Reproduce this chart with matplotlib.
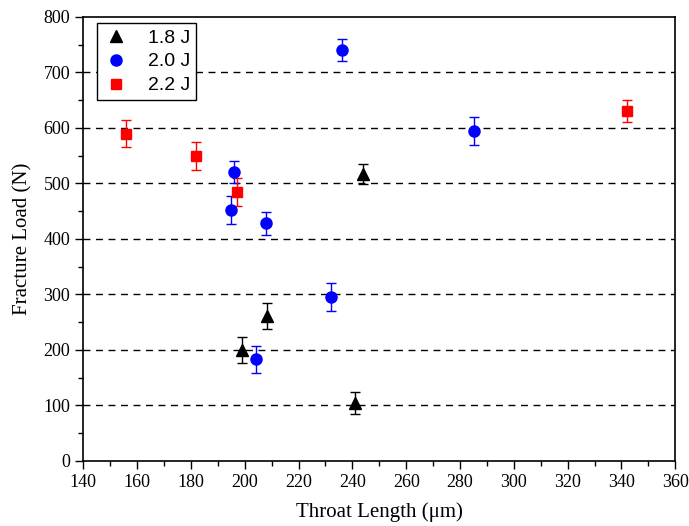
import matplotlib.pyplot as plt
from matplotlib.lines import Line2D
from matplotlib.ticker import MultipleLocator

# throat length (um), fracture load (N), error (N)
x_18 = [198.9, 208.1, 241.0, 244.0]
y_18 = [200, 261, 105, 517]
e_18 = [24, 24, 20, 18]

x_20 = [204.1, 232.0, 195.0, 196.0, 208.0, 236.0, 285.1]
y_20 = [183, 295, 452, 521, 428, 740, 594]
e_20 = [25, 25, 25, 20, 20, 20, 25]

x_22 = [155.8, 181.9, 197.0, 342.1]
y_22 = [590, 550, 484, 630]
e_22 = [25, 25, 25, 20]

series = [
    ('1.8 J', x_18, y_18, e_18, '^', 'black', 8.5),
    ('2.0 J', x_20, y_20, e_20, 'o', 'blue', 8),
    ('2.2 J', x_22, y_22, e_22, 's', 'red', 7),
]

serif = ['Liberation Serif', 'DejaVu Serif']
sans = ['Liberation Sans', 'DejaVu Sans']

fig = plt.figure(figsize=(6.89, 5.26), dpi=100)
ax = fig.add_axes([0.121, 0.1236, 0.859, 0.8441])

handles = []
for label, xs, ys, es, m, c, ms in series:
    ax.errorbar(xs, ys, yerr=es, fmt=m, color=c, ecolor=c, markersize=ms,
                capsize=3.5, elinewidth=1.0, capthick=1.0, zorder=3)
    handles.append(Line2D([], [], linestyle='none', marker=m, color=c,
                          markersize=ms, label=label))

# dashed horizontal grid at major y ticks
for yv in range(100, 800, 100):
    ax.axhline(yv, color='black', linestyle=(0, (5, 4)), linewidth=1.0, zorder=1)

ax.set_xlim(140, 360)
ax.set_ylim(0, 800)
ax.xaxis.set_major_locator(MultipleLocator(20))
ax.xaxis.set_minor_locator(MultipleLocator(10))
ax.yaxis.set_major_locator(MultipleLocator(100))
ax.yaxis.set_minor_locator(MultipleLocator(50))
ax.tick_params(which='both', direction='out', top=False, right=False, width=1.0)
ax.tick_params(which='major', length=6, labelsize=13)
ax.tick_params(which='minor', length=3.5)
for lab in ax.get_xticklabels() + ax.get_yticklabels():
    lab.set_family(serif)
for sp in ax.spines.values():
    sp.set_linewidth(1.2)

ax.set_xlabel('Throat Length (\u03bcm)', family=serif, fontsize=15, labelpad=8)
ax.set_ylabel('Fracture Load (N)', family=serif, fontsize=15, labelpad=8)

leg = ax.legend(handles=handles, loc='upper left', bbox_to_anchor=(0.023, 0.986),
                borderaxespad=0, fancybox=False, shadow=False, framealpha=1,
                edgecolor='black', prop={'family': sans, 'size': 14},
                handletextpad=0.9, labelspacing=0.32, borderpad=0.3,
                handlelength=1.4)
leg.get_frame().set_linewidth(1.0)

fig.savefig('out.png', dpi=100)
